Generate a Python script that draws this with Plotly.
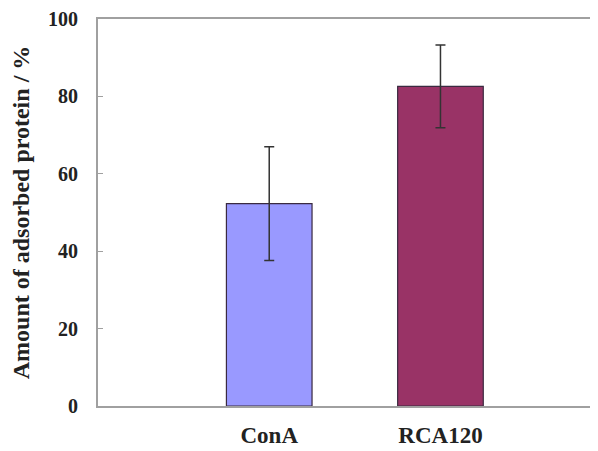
import plotly.graph_objects as go

categories = ["ConA", "RCA120"]
values = [52.3, 82.6]
errors = [14.7, 10.7]
bar_colors = ["#9999FF", "#993366"]
y_ticks = [0, 20, 40, 60, 80, 100]

fig = go.Figure()
fig.add_trace(go.Bar(
    x=categories, y=values,
    marker=dict(color=bar_colors, line=dict(color="#3a2a40", width=1.2)),
    width=0.5,
    error_y=dict(type="data", array=errors, visible=True, color="#333333",
                 thickness=1.5, width=5),
))

font_serif = "Liberation Serif, Times New Roman, serif"
fig.update_layout(
    width=598, height=451,
    margin=dict(l=90, r=8, t=11, b=53),
    paper_bgcolor="white", plot_bgcolor="white",
    showlegend=False,
    font=dict(family=font_serif, color="#222222"),
)
fig.update_xaxes(
    range=[-1, 1.92], showline=True, linecolor="#a0a0a0", linewidth=2,
    mirror=True, ticks="", showgrid=False, ticklabelstandoff=7,
    automargin=False,
    tickfont=dict(size=23, family=font_serif, weight="bold", color="#222222"),
)
fig.update_yaxes(
    range=[0, 100], tickvals=y_ticks, showline=True, linecolor="#a0a0a0",
    linewidth=2, ticks="inside", ticklen=5, tickcolor="#a0a0a0", tickwidth=1,
    showgrid=False, zeroline=False, ticklabelstandoff=14,
    ticklabeloverflow="allow", automargin=False,
    tickfont=dict(size=20, family=font_serif, weight="bold", color="#222222"),
    title=dict(text="Amount of adsorbed protein / %", standoff=20,
               font=dict(size=24, family=font_serif, weight="bold", color="#222222")),
)
fig.write_html("out.html")
